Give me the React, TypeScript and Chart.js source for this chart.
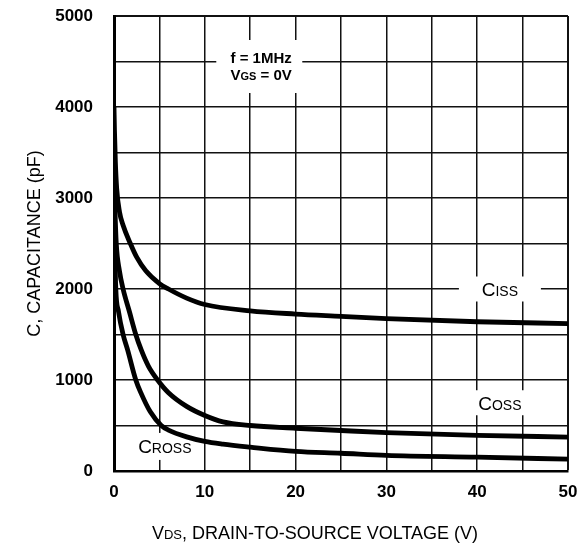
import React, { useEffect, useRef } from 'react';
import { Chart, registerables } from 'chart.js';

Chart.register(...registerables);

// ---- Data ----
const cissV = [0, 0.05, 0.15, 0.3, 0.6, 1, 1.8, 2.5, 3.5, 5, 6, 8, 10, 15, 20, 25, 30, 40, 50];
const cissPF = [4000, 3750, 3400, 3100, 2850, 2700, 2500, 2350, 2200, 2060, 2000, 1900, 1830, 1760, 1725, 1700, 1675, 1640, 1620];

const cossV = [0, 0.1, 0.25, 0.6, 1, 1.7, 2.4, 3, 3.8, 4.8, 6, 8, 10, 12, 15, 20, 25, 30, 40, 50];
const cossPF = [3300, 2900, 2500, 2200, 2000, 1750, 1500, 1330, 1150, 1000, 860, 710, 610, 540, 500, 470, 445, 422, 392, 373];

const crssV = [0, 0.1, 0.2, 0.5, 1, 1.5, 2.4, 3, 4, 5.2, 6, 8, 10, 12, 15, 20, 25, 30, 40, 50];
const crssPF = [3200, 2400, 2000, 1750, 1500, 1330, 1000, 850, 650, 500, 450, 375, 325, 295, 262, 215, 195, 172, 152, 130];

const xTickLabels = [0, 10, 20, 30, 40, 50];
const yTickLabels = [0, 1000, 2000, 3000, 4000, 5000];

const FONT = 'Arial, "Liberation Sans", Helvetica, sans-serif';

type Part = [string, number];

function drawParts(ctx: CanvasRenderingContext2D, parts: Part[], cx: number, baseline: number, bold: boolean) {
  const w = (t: string, s: number) => {
    ctx.font = `${bold ? 'bold ' : ''}${s}px ${FONT}`;
    return ctx.measureText(t).width;
  };
  let total = 0;
  parts.forEach(([t, s]) => (total += w(t, s)));
  let x = cx - total / 2;
  ctx.textAlign = 'left';
  ctx.textBaseline = 'alphabetic';
  parts.forEach(([t, s]) => {
    const ww = w(t, s);
    ctx.fillText(t, x, baseline);
    x += ww;
  });
}

const labelsPlugin = {
  id: 'capLabels',
  beforeDatasetsDraw(chart: any) {
    const { ctx, scales } = chart;
    const xs = scales.x;
    const ys = scales.y;
    ctx.save();
    ctx.fillStyle = '#fff';
    // white boxes that interrupt the grid
    const boxes: [number, number, number, number][] = [
      [16, 4445, 86, 53],
      [42.5, 2000, 82, 25],
      [42.5, 750, 68, 25],
      [5.6, 270, 62, 27],
    ];
    boxes.forEach(([v, c, bw, bh]) => {
      const px = xs.getPixelForValue(v);
      const py = ys.getPixelForValue(c);
      ctx.fillRect(px - bw / 2, py - bh / 2, bw, bh);
    });
    ctx.fillStyle = '#000';
    // annotation
    const ax = xs.getPixelForValue(16.2);
    const ay = ys.getPixelForValue(4445);
    drawParts(ctx, [['f = 1MHz', 15]], ax, ay - 3.5, true);
    drawParts(ctx, [['V', 15], ['GS', 11], [' = 0V', 15]], ax, ay + 13.5, true);
    // curve labels
    const big = 19;
    const small = 14;
    const lab = (v: number, c: number, parts: Part[]) => {
      const px = xs.getPixelForValue(v);
      const py = ys.getPixelForValue(c);
      drawParts(ctx, parts, px, py + 0.716 * big / 2, false);
    };
    lab(42.5, 2000, [['C', big], ['ISS', small]]);
    lab(42.5, 750, [['C', big], ['OSS', small]]);
    lab(5.6, 270, [['C', big], ['ROSS', small]]);
    ctx.restore();
  },
  afterDraw(chart: any) {
    const { ctx, chartArea } = chart;
    ctx.save();
    ctx.fillStyle = '#000';
    drawParts(ctx, [['V', 18], ['DS', 13], [', DRAIN-TO-SOURCE VOLTAGE (V)', 18]], 315, 539, false);
    const cy = (chartArea.top + chartArea.bottom) / 2;
    ctx.translate(40, cy);
    ctx.rotate(-Math.PI / 2);
    drawParts(ctx, [['C, CAPACITANCE (pF)', 18]], 0, 0, false);
    ctx.restore();
  },
};

const toPts = (xs: number[], ys: number[]) => xs.map((x, i) => ({ x, y: ys[i] }));

const zeroPad = (s: any) => {
  s.paddingTop = 0;
  s.paddingBottom = 0;
  s.paddingLeft = 0;
  s.paddingRight = 0;
};

export default function App() {
  const ref = useRef<HTMLCanvasElement>(null);
  useEffect(() => {
    const lineDs = (label: string, data: { x: number; y: number }[]) => ({
      label,
      data,
      showLine: true,
      borderColor: '#000',
      backgroundColor: '#000',
      borderWidth: 4.8,
      pointRadius: 0,
      cubicInterpolationMode: 'monotone' as const,
      fill: false,
    });
    const chart = new Chart(ref.current as HTMLCanvasElement, {
      type: 'scatter',
      data: {
        datasets: [
          lineDs('Ciss', toPts(cissV, cissPF)),
          lineDs('Coss', toPts(cossV, cossPF)),
          lineDs('Crss', toPts(crssV, crssPF)),
        ],
      },
      options: {
        responsive: false,
        animation: false,
        layout: { padding: { left: 0, top: 16, right: 11, bottom: 0 } },
        plugins: { legend: { display: false }, tooltip: { enabled: false } },
        scales: {
          x: {
            type: 'linear',
            min: 0,
            max: 50,
            afterFit: (s: any) => {
              s.height = 75;
              zeroPad(s);
            },
            ticks: {
              stepSize: 5,
              autoSkip: false,
              maxRotation: 0,
              padding: 11,
              color: '#000',
              font: { family: FONT, size: 17, weight: 'bold' },
              callback: (v: any) => (xTickLabels.includes(Number(v)) ? String(v) : ''),
            },
            grid: {
              color: '#111',
              lineWidth: (c: any) => (c.tick && c.tick.value === 50 ? 2 : 1.5),
              drawTicks: false,
            },
            border: { color: '#000', width: 2.5 },
          },
          y: {
            type: 'linear',
            min: 0,
            max: 5000,
            afterFit: (s: any) => {
              s.width = 114;
              zeroPad(s);
            },
            ticks: {
              stepSize: 500,
              autoSkip: false,
              padding: 21,
              color: '#000',
              font: { family: FONT, size: 17, weight: 'bold' },
              callback: (v: any) => (yTickLabels.includes(Number(v)) ? String(v) : ''),
            },
            grid: {
              color: '#111',
              lineWidth: (c: any) => (c.tick && c.tick.value === 5000 ? 2 : 1.5),
              drawTicks: false,
            },
            border: { color: '#000', width: 3 },
          },
        },
      },
      plugins: [labelsPlugin],
    } as any);
    return () => chart.destroy();
  }, []);
  return (
    <div style={{ position: 'fixed', left: 0, top: 0, width: 579, height: 546, background: '#fff' }}>
      <canvas ref={ref} width={579} height={546} style={{ display: 'block' }} />
    </div>
  );
}
